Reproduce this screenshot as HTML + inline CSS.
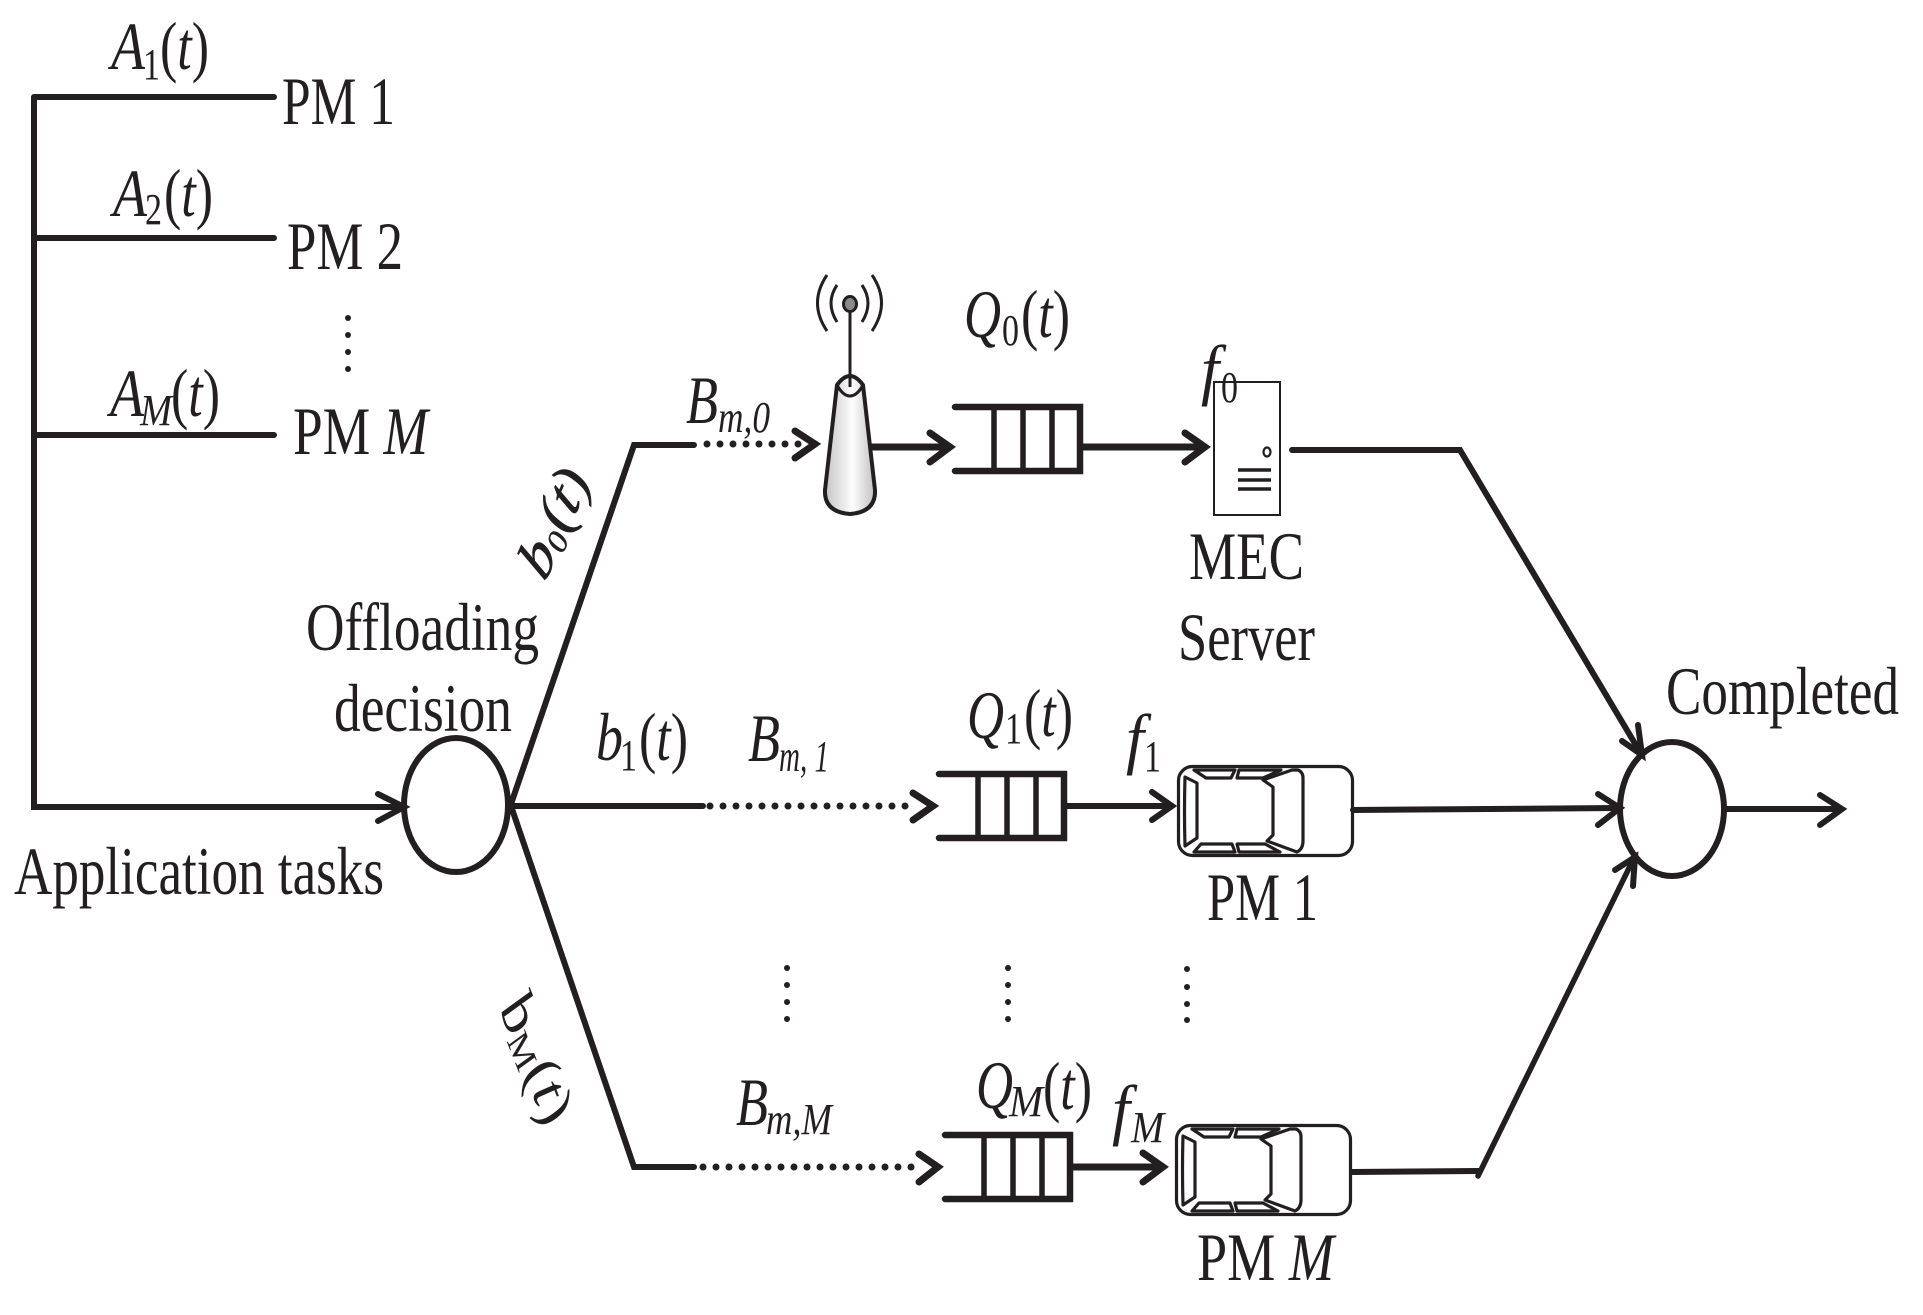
<!DOCTYPE html>
<html><head><meta charset="utf-8"><style>
html,body{margin:0;padding:0;background:#fff}
svg{display:block}
text{font-family:"Liberation Serif",serif;font-size:68px;fill:#231f20}
.i{font-style:italic}
.s{font-size:44px}
.l{fill:none;stroke:#231f20;stroke-width:6;stroke-linecap:round;stroke-linejoin:miter}
.a{fill:none;stroke:#231f20;stroke-width:7;stroke-linecap:round;stroke-linejoin:miter}
.q{fill:none;stroke:#231f20;stroke-width:5.5}
.c{fill:none;stroke:#231f20;stroke-width:3.2;stroke-linejoin:round}
.d{fill:#231f20}
</style></head><body>
<svg width="1923" height="1315" viewBox="0 0 1923 1315" xmlns="http://www.w3.org/2000/svg">
<defs>
<linearGradient id="g" x1="0" x2="1" y1="0" y2="0"><stop offset="0" stop-color="#c4c4c4"/><stop offset=".55" stop-color="#fdfdfd"/><stop offset="1" stop-color="#c0c0c0"/></linearGradient>
<g id="car">
<rect x="1.5" y="1.5" width="174" height="89" rx="14" ry="14" class="c"/>
<path class="c" d="M8 12L20 18V73L8 81Q7 46 8 12Z"/>
<path class="c" d="M17 5H58L54 13H29Z"/>
<path class="c" d="M62 5H104L86 13H60Z"/>
<path class="c" d="M17 87L24 79H55L58 87Z"/>
<path class="c" d="M62 87L60 79H88L103 87Z"/>
<path class="c" d="M86 15L115 5H121Q126 7 126 13V76Q126 84 120 87L90 76L96 70V22Z"/>
</g>
<g id="queue">
<path class="q" d="M0 0H125V64H0" style="stroke-width:6.5;stroke-linecap:round"/>
<path class="q" d="M39 0V64M68 0V64M97 0V64"/>
</g>
</defs>

<!-- left tree -->
<path class="l" d="M34 97H274M34 238H274M34 435H274M34 97V807H404"/>
<path class="a" style="stroke-width:6" d="M378 794L404 807L378 821"/>
<g class="d"><circle cx="348" cy="318" r="3"/><circle cx="348" cy="335" r="3"/><circle cx="348" cy="352" r="3"/><circle cx="348" cy="369" r="3"/></g>

<text class="i" x="111" y="69" textLength="34" lengthAdjust="spacingAndGlyphs">A</text>
<text class="s" x="143" y="79" textLength="17" lengthAdjust="spacingAndGlyphs">1</text>
<text x="160" y="69" textLength="49" lengthAdjust="spacingAndGlyphs">(<tspan class="i">t</tspan>)</text>
<text x="282" y="124" textLength="113" lengthAdjust="spacingAndGlyphs">PM 1</text>

<text class="i" x="113" y="216" textLength="34" lengthAdjust="spacingAndGlyphs">A</text>
<text class="s" x="145" y="224" textLength="17" lengthAdjust="spacingAndGlyphs">2</text>
<text x="164" y="216" textLength="49" lengthAdjust="spacingAndGlyphs">(<tspan class="i">t</tspan>)</text>
<text x="287" y="269" textLength="116" lengthAdjust="spacingAndGlyphs">PM 2</text>

<text class="i" x="110" y="416" textLength="34" lengthAdjust="spacingAndGlyphs">A</text>
<text class="s i" x="140" y="425" textLength="32" lengthAdjust="spacingAndGlyphs">M</text>
<text x="171" y="416" textLength="49" lengthAdjust="spacingAndGlyphs">(<tspan class="i">t</tspan>)</text>
<text x="293" y="454" textLength="135" lengthAdjust="spacingAndGlyphs">PM <tspan class="i">M</tspan></text>

<text x="14" y="894" textLength="370" lengthAdjust="spacingAndGlyphs">Application tasks</text>
<text x="306" y="650" textLength="233" lengthAdjust="spacingAndGlyphs">Offloading</text>
<text x="334" y="731" textLength="178" lengthAdjust="spacingAndGlyphs">decision</text>

<!-- decision -->
<ellipse cx="456" cy="805" rx="52" ry="67" class="l"/>
<path class="l" d="M511 804L634 445H694"/>
<path class="l" d="M511 806L634 1167H694"/>
<path class="l" d="M511 806H703"/>

<g transform="translate(545 583) scale(.735 1) rotate(-59)">
<text class="i" x="0" y="0" stroke="#231f20" stroke-width=".8">b</text>
<text x="35" y="6" style="font-size:38px" stroke="#231f20" stroke-width=".6">0</text>
<text x="54" y="0" stroke="#231f20" stroke-width=".8">(<tspan class="i">t</tspan>)</text>
</g>
<g transform="translate(499 1009) scale(.735 1) rotate(62)">
<text x="0" y="0">b</text>
<text x="33" y="6" style="font-size:42px">M</text>
<text x="72" y="0">(<tspan class="i">t</tspan>)</text>
</g>

<text class="i" x="596" y="760" textLength="27" lengthAdjust="spacingAndGlyphs">b</text>
<text class="s" x="620" y="770" textLength="17" lengthAdjust="spacingAndGlyphs">1</text>
<text x="639" y="760" textLength="49" lengthAdjust="spacingAndGlyphs">(<tspan class="i">t</tspan>)</text>

<!-- top row -->
<g class="d">
<circle cx="707" cy="444" r="3.5"/><circle cx="720" cy="444" r="3.5"/><circle cx="733" cy="444" r="3.5"/><circle cx="746" cy="444" r="3.5"/><circle cx="759" cy="444" r="3.5"/><circle cx="772" cy="444" r="3.5"/><circle cx="785" cy="444" r="3.5"/><circle cx="798" cy="444" r="3.5"/>
</g>
<path class="a" d="M795 431L815 444L795 458"/>
<text class="i" x="686" y="423" textLength="32" lengthAdjust="spacingAndGlyphs">B</text>
<text class="s i" x="718" y="432" textLength="52" lengthAdjust="spacingAndGlyphs">m,0</text>

<path class="a" d="M871 447H950M930 433L950 447L930 462"/>
<path d="M837 385L825 490Q824 512 850 514Q876 512 875 490L863 385Q850 367 837 385Z" fill="url(#g)" stroke="#231f20" stroke-width="4"/>
<path d="M837 385Q843 396 850 396Q857 396 863 385" fill="none" stroke="#231f20" stroke-width="3"/>
<path d="M850 311V387" stroke="#231f20" stroke-width="3" fill="none"/>
<ellipse cx="850" cy="304" rx="6.5" ry="7.5" fill="#8a8a8a" stroke="#231f20" stroke-width="3"/>
<path fill="none" stroke="#231f20" stroke-width="3" d="M827 275Q808 303 827 331M837 285Q825 303 837 322M862 285Q874 303 862 322M872 275Q891 303 872 331"/>

<use href="#queue" x="955" y="407"/>
<path class="a" d="M1082 447H1205M1185 433L1205 447L1185 462"/>
<text class="i" x="964" y="337" textLength="37" lengthAdjust="spacingAndGlyphs">Q</text>
<text class="s" x="1002" y="345" textLength="17" lengthAdjust="spacingAndGlyphs">0</text>
<text x="1021" y="337" textLength="49" lengthAdjust="spacingAndGlyphs">(<tspan class="i">t</tspan>)</text>

<rect x="1214" y="382" width="66" height="133" fill="#fff" stroke="#231f20" stroke-width="2"/>
<ellipse cx="1267" cy="452" rx="3.5" ry="4.5" fill="none" stroke="#231f20" stroke-width="2.2"/>
<path d="M1238 470H1271M1238 480H1271M1238 489H1271" stroke="#231f20" stroke-width="3.5" fill="none"/>
<text class="i" x="1201" y="392" textLength="18" lengthAdjust="spacingAndGlyphs">f</text>
<text class="s" x="1221" y="402" textLength="17" lengthAdjust="spacingAndGlyphs">0</text>
<text x="1189" y="579" textLength="115" lengthAdjust="spacingAndGlyphs">MEC</text>
<text x="1178" y="660" textLength="137" lengthAdjust="spacingAndGlyphs">Server</text>

<path class="l" d="M1292 450H1460L1640 752"/>
<path class="l" d="M1622 741L1642 755L1638 725"/>

<!-- middle row -->
<g class="d">
<circle cx="710" cy="806" r="3.5"/><circle cx="723" cy="806" r="3.5"/><circle cx="736" cy="806" r="3.5"/><circle cx="749" cy="806" r="3.5"/><circle cx="762" cy="806" r="3.5"/><circle cx="775" cy="806" r="3.5"/><circle cx="788" cy="806" r="3.5"/><circle cx="801" cy="806" r="3.5"/><circle cx="814" cy="806" r="3.5"/><circle cx="827" cy="806" r="3.5"/><circle cx="840" cy="806" r="3.5"/><circle cx="853" cy="806" r="3.5"/><circle cx="866" cy="806" r="3.5"/><circle cx="879" cy="806" r="3.5"/><circle cx="892" cy="806" r="3.5"/><circle cx="905" cy="806" r="3.5"/>
</g>
<path class="a" d="M913 793L933 806L913 820"/>
<text class="i" x="748" y="761" textLength="32" lengthAdjust="spacingAndGlyphs">B</text>
<text class="s i" x="779" y="771" textLength="50" lengthAdjust="spacingAndGlyphs">m, 1</text>
<use href="#queue" x="939" y="774"/>
<path class="a" d="M1064 806H1172M1152 792L1172 806L1152 820" style="stroke-width:6"/>
<text class="i" x="967" y="738" textLength="37" lengthAdjust="spacingAndGlyphs">Q</text>
<text class="s" x="1005" y="743" textLength="17" lengthAdjust="spacingAndGlyphs">1</text>
<text x="1024" y="736" textLength="49" lengthAdjust="spacingAndGlyphs">(<tspan class="i">t</tspan>)</text>
<text class="i" x="1126" y="761" textLength="18" lengthAdjust="spacingAndGlyphs">f</text>
<text class="s" x="1144" y="771" textLength="17" lengthAdjust="spacingAndGlyphs">1</text>
<use href="#car" x="1177" y="765"/>
<text x="1207" y="920" textLength="111" lengthAdjust="spacingAndGlyphs">PM 1</text>
<path class="l" d="M1353 810L1618 808"/>
<path class="a" style="stroke-width:6" d="M1598 794L1620 808L1598 825"/>

<!-- dots -->
<g class="d">
<circle cx="787" cy="968" r="3"/><circle cx="787" cy="985" r="3"/><circle cx="787" cy="1002" r="3"/><circle cx="787" cy="1019" r="3"/>
<circle cx="1008" cy="968" r="3"/><circle cx="1008" cy="985" r="3"/><circle cx="1008" cy="1002" r="3"/><circle cx="1008" cy="1019" r="3"/>
<circle cx="1187" cy="969" r="3"/><circle cx="1187" cy="987" r="3"/><circle cx="1187" cy="1004" r="3"/><circle cx="1187" cy="1020" r="3"/>
</g>

<!-- bottom row -->
<g class="d">
<circle cx="703" cy="1167" r="3.5"/><circle cx="716" cy="1167" r="3.5"/><circle cx="729" cy="1167" r="3.5"/><circle cx="742" cy="1167" r="3.5"/><circle cx="755" cy="1167" r="3.5"/><circle cx="768" cy="1167" r="3.5"/><circle cx="781" cy="1167" r="3.5"/><circle cx="794" cy="1167" r="3.5"/><circle cx="807" cy="1167" r="3.5"/><circle cx="820" cy="1167" r="3.5"/><circle cx="833" cy="1167" r="3.5"/><circle cx="846" cy="1167" r="3.5"/><circle cx="859" cy="1167" r="3.5"/><circle cx="872" cy="1167" r="3.5"/><circle cx="885" cy="1167" r="3.5"/><circle cx="898" cy="1167" r="3.5"/><circle cx="911" cy="1167" r="3.5"/>
</g>
<path class="a" d="M919 1154L938 1167L919 1182"/>
<text class="i" x="736" y="1125" textLength="32" lengthAdjust="spacingAndGlyphs">B</text>
<text class="s i" x="766" y="1134" textLength="66" lengthAdjust="spacingAndGlyphs">m,M</text>
<use href="#queue" x="945" y="1135"/>
<path class="a" d="M1071 1167H1163M1143 1153L1163 1167L1143 1182"/>
<text class="i" x="976" y="1108" textLength="37" lengthAdjust="spacingAndGlyphs">Q</text>
<text class="s i" x="1009" y="1116" textLength="34" lengthAdjust="spacingAndGlyphs">M</text>
<text x="1043" y="1109" textLength="49" lengthAdjust="spacingAndGlyphs">(<tspan class="i">t</tspan>)</text>
<text class="i" x="1112" y="1132" textLength="18" lengthAdjust="spacingAndGlyphs">f</text>
<text class="s i" x="1131" y="1142" textLength="33" lengthAdjust="spacingAndGlyphs">M</text>
<use href="#car" x="1175" y="1124"/>
<text x="1197" y="1280" textLength="137" lengthAdjust="spacingAndGlyphs">PM <tspan class="i">M</tspan></text>
<path class="l" d="M1352 1172L1478 1171" />
<path class="l" style="stroke-width:5.5" d="M1478 1176L1633 860"/>
<path class="l" d="M1615 870L1635 857L1633 886"/>

<!-- completed -->
<ellipse cx="1672" cy="809" rx="52" ry="67" class="l"/>
<path class="l" d="M1726 809H1840"/>
<path class="a" style="stroke-width:6" d="M1820 795L1842 809L1820 825"/>
<text x="1666" y="714" textLength="233" lengthAdjust="spacingAndGlyphs">Completed</text>
</svg>
</body></html>
